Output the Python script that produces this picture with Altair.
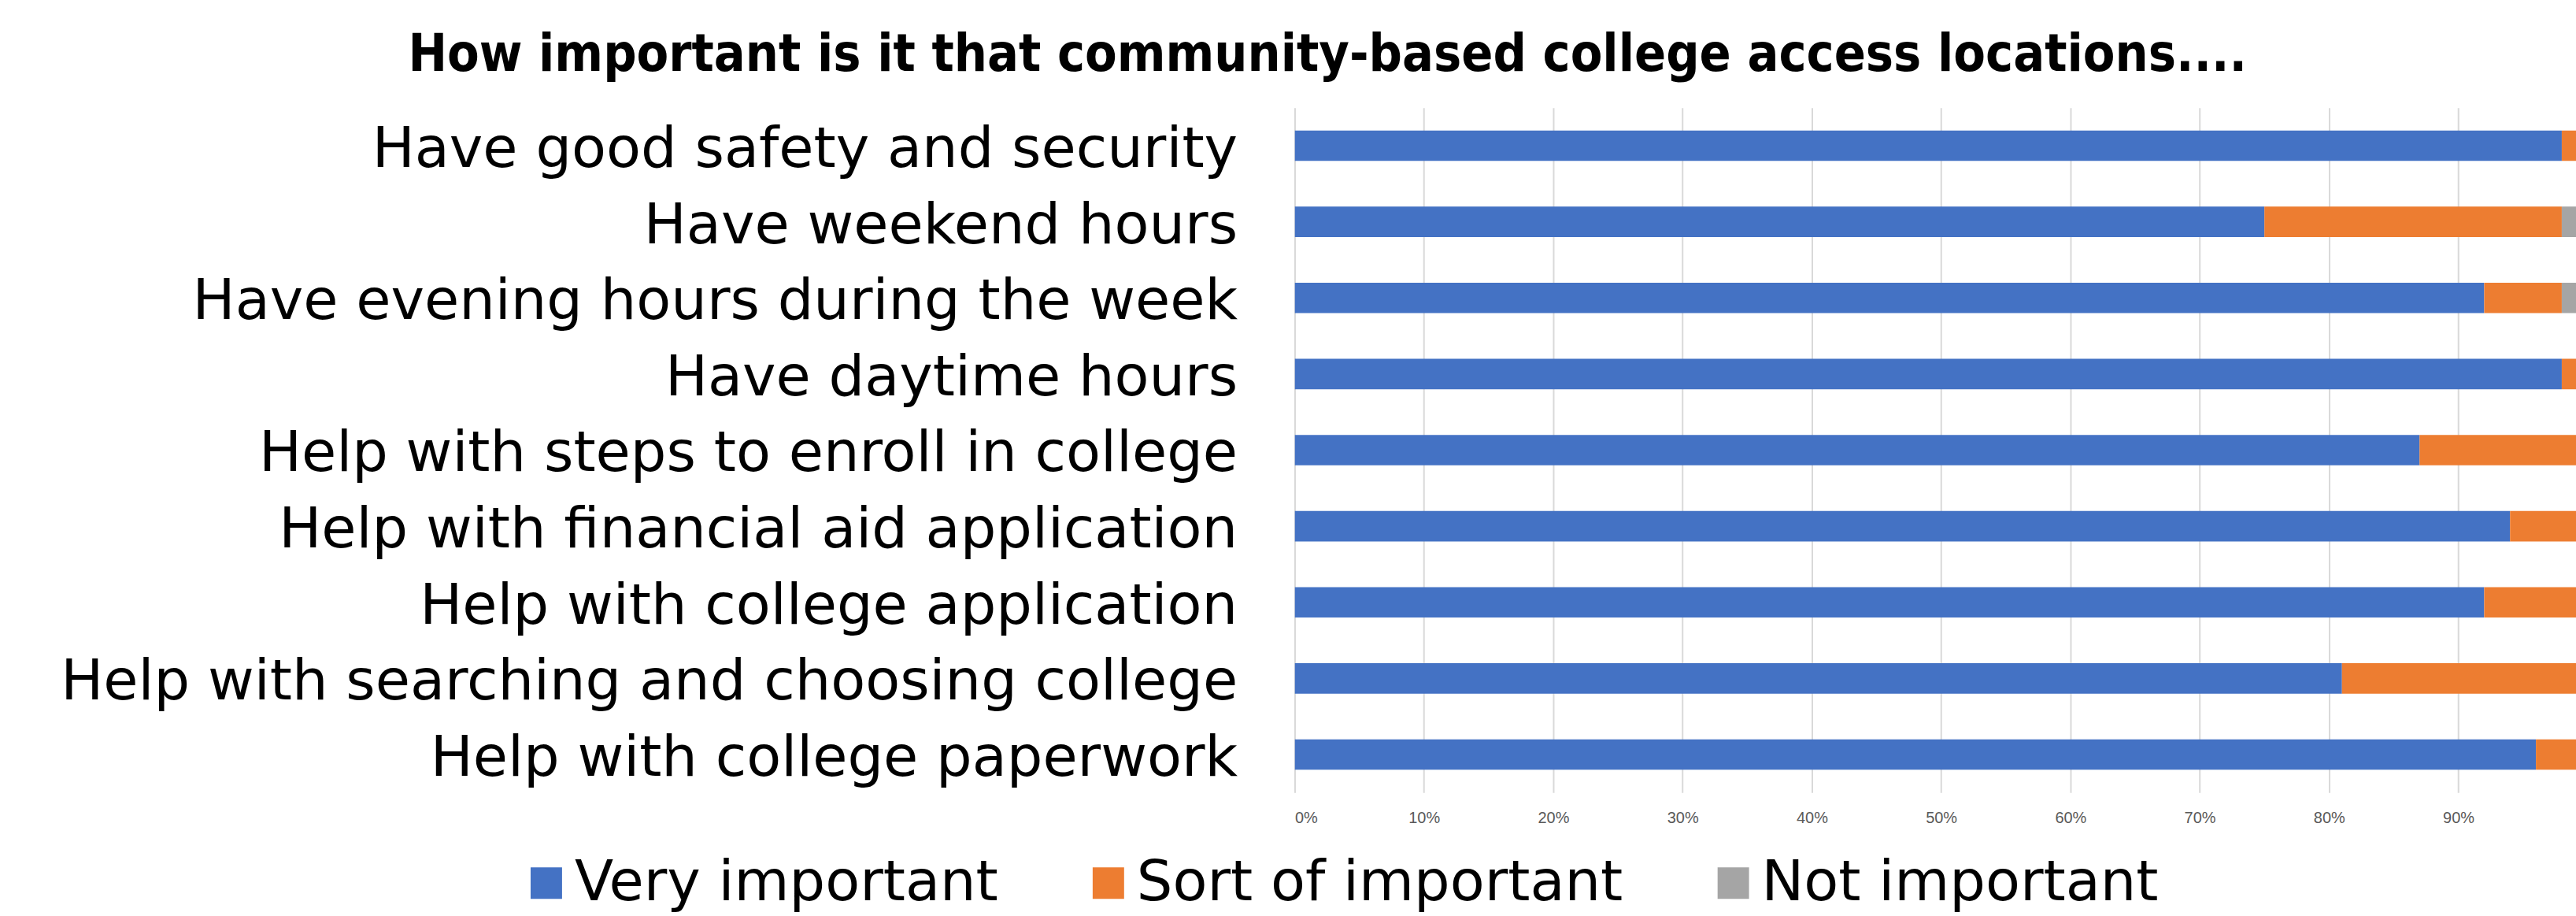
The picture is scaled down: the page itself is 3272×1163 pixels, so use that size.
import altair as alt
import pandas as pd

categories = [
    "Have good safety and security",
    "Have weekend hours",
    "Have evening hours during the week",
    "Have daytime hours",
    "Help with steps to enroll in college",
    "Help with financial aid application",
    "Help with college application",
    "Help with searching and choosing college",
    "Help with college paperwork",
]
very_important = [98, 75, 92, 98, 87, 94, 92, 81, 96]
sort_of_important = [2, 23, 6, 2, 13, 6, 8, 19, 4]
not_important = [0, 2, 2, 0, 0, 0, 0, 0, 0]

series = ["Very important", "Sort of important", "Not important"]
colors = ["#4472C4", "#ED7D31", "#A5A5A5"]
x_ticks = [0, 0.1, 0.2, 0.3, 0.4, 0.5, 0.6, 0.7, 0.8, 0.9]
# the reference chart is cropped on the right at about 99% of the axis
x_visible_max = 0.991
title_text = "How important is it that community-based college access locations...."

rows = []
for i, cat in enumerate(categories):
    for k, (name, vals) in enumerate(zip(series, [very_important, sort_of_important, not_important])):
        rows.append({"category": cat, "series": name, "order": k, "value": vals[i] / 100})
df = pd.DataFrame(rows)

chart = alt.Chart(df).mark_bar(clip=True).encode(
    y=alt.Y("category:N", sort=categories, title=None,
            scale=alt.Scale(paddingInner=0.6, paddingOuter=0.3),
            axis=alt.Axis(domain=False, ticks=False, labelFont="DejaVu Sans", labelFontSize=72,
                          labelColor="#000000", labelPadding=73, labelLimit=3000, labelOffset=5)),
    x=alt.X("value:Q", stack="zero", title=None,
            scale=alt.Scale(domain=[0, x_visible_max], nice=False, zero=True),
            axis=alt.Axis(values=x_ticks, format=".0%", domain=False, ticks=False,
                          labelFont="Liberation Sans", labelFontSize=20, labelColor="#595959",
                          labelPadding=22, gridColor="#D9D9D9", gridWidth=2)),
    color=alt.Color("series:N", sort=series,
                    scale=alt.Scale(domain=series, range=colors),
                    legend=alt.Legend(title=None, orient="none", direction="horizontal",
                                      legendX=-988, legendY=950, symbolType="square",
                                      symbolSize=1600, symbolStrokeWidth=0, labelFont="DejaVu Sans",
                                      labelFontSize=72, labelColor="#000000", labelLimit=3000,
                                      labelOffset=0, columnPadding=104)),
    order=alt.Order("order:Q"),
).properties(
    width=1630,
    height=871,
    padding={"left": 76, "top": 36, "right": 0, "bottom": 8},
    title=alt.TitleParams(title_text, font="DejaVu Sans Condensed, Liberation Sans",
                          fontWeight="bold", fontSize=66, frame="bounds",
                          anchor="middle", color="#000000", offset=33, dx=12),
).configure_view(stroke=None)

chart.save("out.html", embed_options={"renderer": "svg", "actions": False})
